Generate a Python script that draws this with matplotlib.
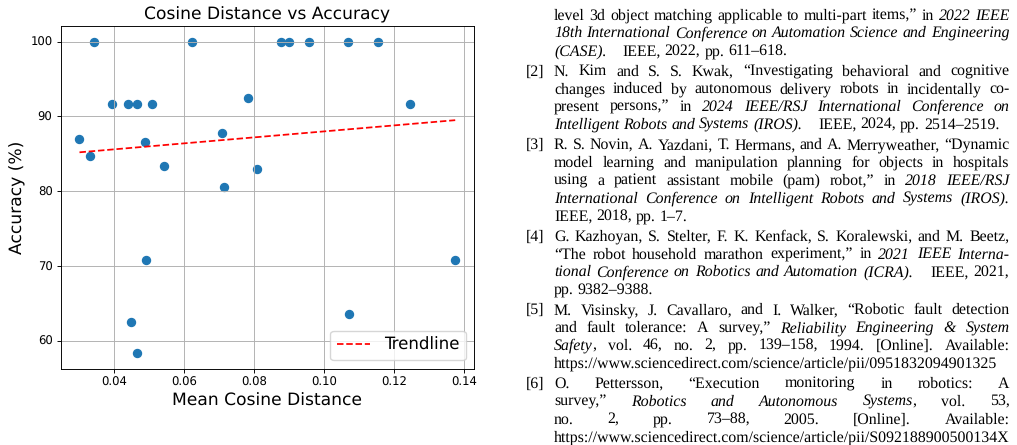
import numpy as np
import matplotlib
matplotlib.use("Agg")
import matplotlib.pyplot as plt

plt.rcParams["text.hinting"] = "no_hinting"

# ---------------- chart data ----------------
mean_cosine_distance = [0.0302, 0.0332, 0.0342, 0.0394, 0.0441, 0.0466, 0.0509,
                        0.0488, 0.0544, 0.0491, 0.0449, 0.0466, 0.0623, 0.0708,
                        0.0715, 0.0783, 0.0808, 0.0878, 0.0900, 0.0956, 0.1068,
                        0.1070, 0.1154, 0.1244, 0.1374]
accuracy = [87.0, 84.75, 100.0, 91.67, 91.67, 91.67, 91.67,
            86.58, 83.33, 70.83, 62.5, 58.33, 100.0, 87.78,
            80.56, 92.46, 82.92, 100.0, 100.0, 100.0, 100.0,
            63.52, 100.0, 91.67, 70.75]

chart_title = "Cosine Distance vs Accuracy"
x_label = "Mean Cosine Distance"
y_label = "Accuracy (%)"
legend_label = "Trendline"

# ---------------- text column (bibliography) ----------------
# '*' toggles italic, a double space means a wider (1 em) gap
ref_labels = ["", "[2]", "[3]", "[4]", "[5]", "[6]"]
ref_lines = [
    ["level 3d object matching applicable to multi-part items,\u201d in *2022 IEEE*",
     "*18th International Conference on Automation Science and Engineering*",
     "*(CASE).*  IEEE, 2022, pp. 611\u2013618."],
    ["N. Kim and S. S. Kwak, \u201cInvestigating behavioral and cognitive",
     "changes induced by autonomous delivery robots in incidentally co-",
     "present persons,\u201d in *2024 IEEE/RSJ International Conference on*",
     "*Intelligent Robots and Systems (IROS).*  IEEE, 2024, pp. 2514\u20132519."],
    ["R. S. Novin, A. Yazdani, T. Hermans, and A. Merryweather, \u201cDynamic",
     "model learning and manipulation planning for objects in hospitals",
     "using a patient assistant mobile (pam) robot,\u201d in *2018 IEEE/RSJ*",
     "*International Conference on Intelligent Robots and Systems (IROS).*",
     "IEEE, 2018, pp. 1\u20137."],
    ["G. Kazhoyan, S. Stelter, F. K. Kenfack, S. Koralewski, and M. Beetz,",
     "\u201cThe robot household marathon experiment,\u201d in *2021 IEEE Interna-*",
     "*tional Conference on Robotics and Automation (ICRA).*  IEEE, 2021,",
     "pp. 9382\u20139388."],
    ["M. Visinsky, J. Cavallaro, and I. Walker, \u201cRobotic fault detection",
     "and fault tolerance: A survey,\u201d *Reliability Engineering & System*",
     "*Safety*, vol. 46, no. 2, pp. 139\u2013158, 1994. [Online]. Available:",
     "https://www.sciencedirect.com/science/article/pii/0951832094901325"],
    ["O. Pettersson, \u201cExecution monitoring in robotics: A",
     "survey,\u201d *Robotics and Autonomous Systems*, vol. 53,",
     "no. 2, pp. 73\u201388, 2005. [Online]. Available:",
     "https://www.sciencedirect.com/science/article/pii/S092188900500134X"],
]

W, H = 1017, 445
fig = plt.figure(figsize=(W / 100, H / 100), dpi=100)

# ---------------- chart ----------------
s = 0.84
ax = fig.add_axes([60.7 / W, 1 - 368.7 / H, (474 - 60.7) / W, (368.7 - 26) / H])
ax.scatter(mean_cosine_distance, accuracy, s=33, color="#1f77b4")
coef = np.polyfit(mean_cosine_distance, accuracy, 1)
xs = np.array([min(mean_cosine_distance), max(mean_cosine_distance)])
ax.plot(xs, np.polyval(coef, xs), "r--", lw=1.5 * s, label=legend_label)
ax.set_title(chart_title, fontsize=12.3, pad=6 * s)
ax.set_xlabel(x_label, fontsize=12.3, labelpad=4 * s)
ax.set_ylabel(y_label, fontsize=12.3, labelpad=4 * s)
ax.tick_params(labelsize=8.4, length=3.5 * s, width=0.8 * s, pad=3.5 * s)
for sp in ax.spines.values():
    sp.set_linewidth(0.8 * s)
ax.grid(True, lw=0.8 * s)
ax.legend(loc="lower right", fontsize=12)

# ---------------- text column ----------------
renderer = fig.canvas.get_renderer()
FAM = "Liberation Serif"


def text_w(txt, fs, italic):
    t = fig.text(0, 0, txt, fontsize=fs, family=FAM,
                 style="italic" if italic else "normal")
    w = t.get_window_extent(renderer).width
    t.remove()
    return w


def parse(line):
    words = []
    italic = False
    for tok in line.split(" "):
        if tok == "":
            if words:
                words[-1]["extra"] += 1
            continue
        runs, cur = [], ""
        for ch in tok:
            if ch == "*":
                if cur:
                    runs.append((cur, italic))
                    cur = ""
                italic = not italic
            else:
                cur += ch
        if cur:
            runs.append((cur, italic))
        words.append({"runs": runs, "extra": 0})
    return words


x_left, x_right, label_right = 554.0, 1009.5, 544.5
url = ref_lines[5][-1]
fs = 10 * (x_right - x_left) / text_w(url, 10, False)
em = fs * 100 / 72
space = text_w("a a", fs, False) - text_w("aa", fs, False)

b0, lead, gap = 19.5, 17.8, 2.5
y = b0
for label, lines in zip(ref_labels, ref_lines):
    if label:
        fig.text(label_right / W, 1 - y / H, label, fontsize=fs, family=FAM,
                 ha="right", va="baseline")
    for i, line in enumerate(lines):
        words = parse(line)
        widths = [[text_w(r[0], fs, r[1]) for r in w["runs"]] for w in words]
        word_w = [sum(ws) for ws in widths]
        gaps = [space + w["extra"] * (em - space) for w in words[:-1]]
        natural = sum(word_w) + sum(gaps)
        avail = x_right - x_left
        justify = len(gaps) > 0 and (i < len(lines) - 1 or natural > avail)
        add = (avail - natural) / len(gaps) if justify else 0.0
        xx = x_left
        for k, w in enumerate(words):
            rx = xx
            for (txt, it), rw in zip(w["runs"], widths[k]):
                fig.text(rx / W, 1 - y / H, txt, fontsize=fs, family=FAM,
                         style="italic" if it else "normal", va="baseline")
                rx += rw
            xx += word_w[k]
            if k < len(gaps):
                xx += gaps[k] + add
        y += lead
    y += gap

fig.savefig("out.png", dpi=100)
